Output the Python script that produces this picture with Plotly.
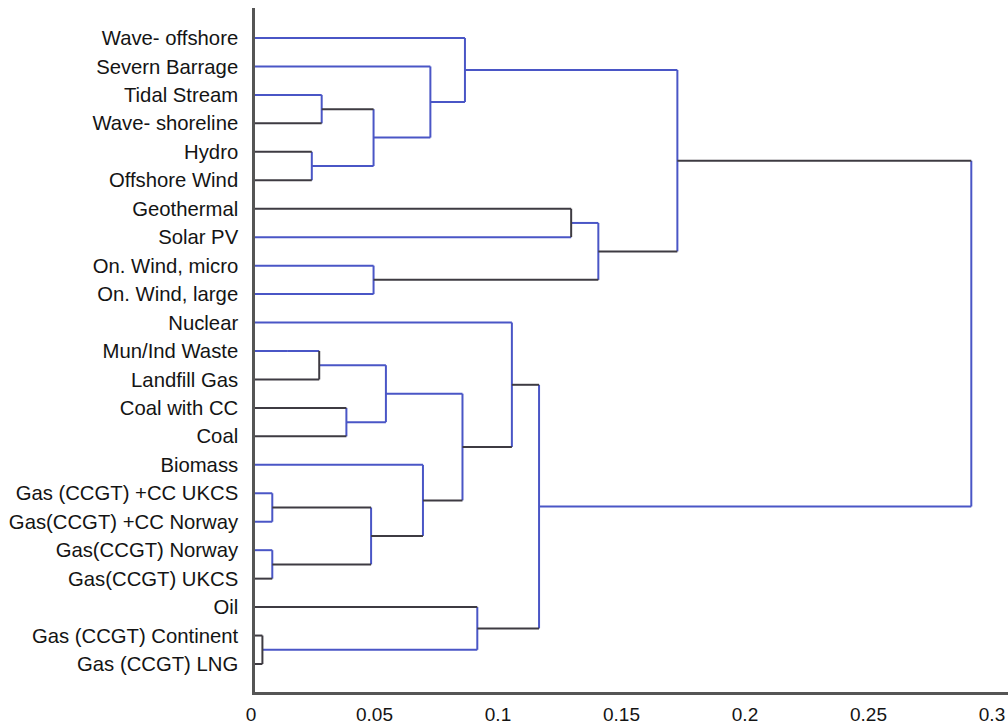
import plotly.graph_objects as go

# Technologies, top to bottom, in leaf order
technologies = [
    "Wave- offshore", "Severn Barrage", "Tidal Stream", "Wave- shoreline",
    "Hydro", "Offshore Wind", "Geothermal", "Solar PV", "On. Wind, micro",
    "On. Wind, large", "Nuclear", "Mun/Ind Waste", "Landfill Gas",
    "Coal with CC", "Coal", "Biomass", "Gas (CCGT) +CC UKCS",
    "Gas(CCGT) +CC Norway", "Gas(CCGT) Norway", "Gas(CCGT) UKCS", "Oil",
    "Gas (CCGT) Continent", "Gas (CCGT) LNG",
]

# Linkage: ids below 23 are leaves, id 23+k is the k-th merged cluster
merge_a = [21, 18, 16, 4, 11, 2, 13, 25, 8, 28, 27, 15, 1, 33, 0, 20, 10, 39, 6, 41, 37, 43]
merge_b = [22, 19, 17, 5, 12, 3, 14, 24, 9, 26, 29, 30, 32, 34, 35, 23, 36, 38, 7, 31, 42, 40]
merge_height = [0.003, 0.007, 0.007, 0.023, 0.026, 0.027, 0.037, 0.047, 0.048, 0.048,
                0.053, 0.068, 0.071, 0.084, 0.085, 0.090, 0.104, 0.115, 0.128, 0.139,
                0.171, 0.290]

x_ticks = [0, 0.05, 0.1, 0.15, 0.2, 0.25, 0.3]
x_tick_text = ["0", "0.05", "0.1", "0.15", "0.2", "0.25", "0.3"]

# Segment colours for each merge: (arm of a, vertical, arm of b)
B, D = "blue", "dark"
seg_style = [
    (D, D, D), (B, B, D), (B, B, B), (D, B, D), (B, D, D), (B, B, D),
    (D, B, D), (D, B, D), (B, B, B), (D, B, B), (B, B, B), (B, B, D),
    (B, B, B), (B, B, D), (B, B, B), (D, B, B), (B, B, D), (D, B, D),
    (D, D, B), (B, B, D), (B, B, D), (D, B, B),
]
COLORS = {"blue": "#4a56c6", "dark": "#3e3b42"}
# Mun/Ind Waste arm: blue near the axis, dark further out
split_arm = {11: 0.013}

n = len(technologies)
pos_y = {i: float(i) for i in range(n)}
pos_x = {i: 0.0 for i in range(n)}

segments = {"blue": ([], []), "dark": ([], [])}


def add(color, xs, ys):
    sx, sy = segments[color]
    sx.extend(xs + [None])
    sy.extend(ys + [None])


for k, (a, b, h) in enumerate(zip(merge_a, merge_b, merge_height)):
    ca, cv, cb = seg_style[k]
    ya, yb = pos_y[a], pos_y[b]
    for child, col, yc in ((a, ca, ya), (b, cb, yb)):
        if child in split_arm:
            xs = split_arm[child]
            add("blue", [pos_x[child], xs], [yc, yc])
            add(col, [xs, h], [yc, yc])
        else:
            add(col, [pos_x[child], h], [yc, yc])
    add(cv, [h, h], [ya, yb])
    cid = n + k
    pos_y[cid] = (ya + yb) / 2
    pos_x[cid] = h

fig = go.Figure()
for name, (xs, ys) in segments.items():
    fig.add_trace(go.Scatter(
        x=xs, y=ys, mode="lines",
        line=dict(color=COLORS[name], width=2),
        hoverinfo="skip", showlegend=False,
    ))

font = "Liberation Sans, Arial, sans-serif"
fig.update_layout(
    width=1008, height=727,
    margin=dict(l=255, r=0, t=8, b=35),
    paper_bgcolor="white", plot_bgcolor="white",
    xaxis=dict(
        range=[0, 0.30486], tickvals=x_ticks, ticktext=x_tick_text,
        showgrid=False, zeroline=False, showline=True,
        linecolor="#555555", linewidth=2.5, ticks="",
        tickfont=dict(family=font, size=19, color="#141414"),
        ticklabelstandoff=3, ticklabelshift=-4,
        ticklabeloverflow="allow", automargin=False,
    ),
    yaxis=dict(
        range=[22.984, -1.054], tickvals=list(range(n)), ticktext=technologies,
        showgrid=False, zeroline=False, showline=True,
        linecolor="#555555", linewidth=2.5, ticks="",
        tickfont=dict(family=font, size=20.3, color="#141414"),
        ticklabelstandoff=10, automargin=False,
    ),
)

fig.write_html("out.html")
